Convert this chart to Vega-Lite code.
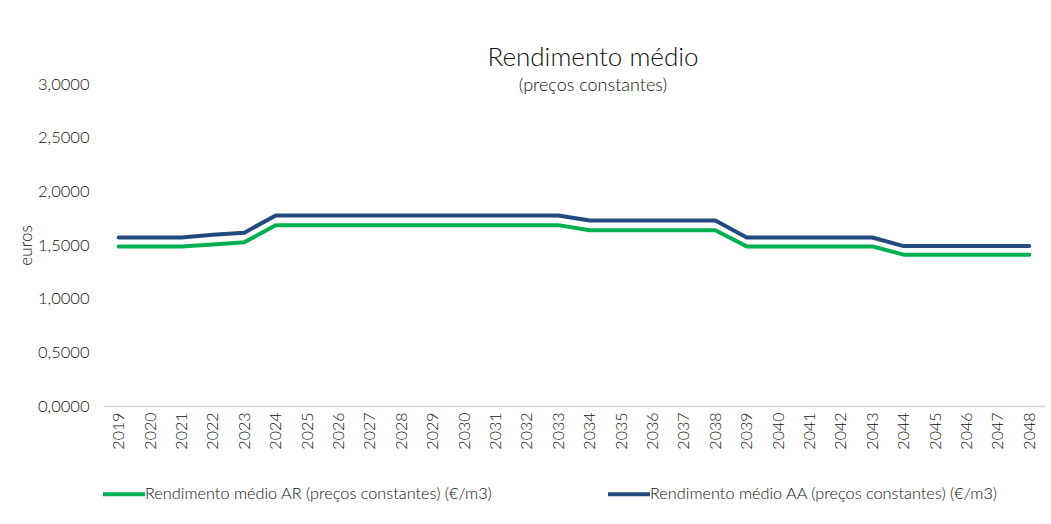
{
  "$schema": "https://vega.github.io/schema/vega-lite/v6.json",
  "width": 942,
  "height": 322,
  "autosize": {"type": "none"},
  "padding": {"left": 103, "top": 84, "right": 6, "bottom": 118},
  "background": "white",
  "config": {
    "font": "Lato",
    "view": {"stroke": null},
    "text": {"font": "Lato"}
  },
  "title": {
    "text": "Rendimento médio",
    "subtitle": "(preços constantes)",
    "fontSize": 26,
    "fontWeight": 300,
    "subtitleFontSize": 18,
    "subtitleFontWeight": 300,
    "color": "#111111",
    "subtitleColor": "#111111",
    "anchor": "middle",
    "dx": 19,
    "offset": -19,
    "subtitlePadding": 6,
    "font": "Lato",
    "subtitleFont": "Lato"
  },
  "data": {
    "values": [
      {"ano": "2019", "serie": "AR", "valor": 1.485},
      {"ano": "2020", "serie": "AR", "valor": 1.485},
      {"ano": "2021", "serie": "AR", "valor": 1.485},
      {"ano": "2022", "serie": "AR", "valor": 1.505},
      {"ano": "2023", "serie": "AR", "valor": 1.525},
      {"ano": "2024", "serie": "AR", "valor": 1.685},
      {"ano": "2025", "serie": "AR", "valor": 1.685},
      {"ano": "2026", "serie": "AR", "valor": 1.685},
      {"ano": "2027", "serie": "AR", "valor": 1.685},
      {"ano": "2028", "serie": "AR", "valor": 1.685},
      {"ano": "2029", "serie": "AR", "valor": 1.685},
      {"ano": "2030", "serie": "AR", "valor": 1.685},
      {"ano": "2031", "serie": "AR", "valor": 1.685},
      {"ano": "2032", "serie": "AR", "valor": 1.685},
      {"ano": "2033", "serie": "AR", "valor": 1.685},
      {"ano": "2034", "serie": "AR", "valor": 1.637},
      {"ano": "2035", "serie": "AR", "valor": 1.637},
      {"ano": "2036", "serie": "AR", "valor": 1.637},
      {"ano": "2037", "serie": "AR", "valor": 1.637},
      {"ano": "2038", "serie": "AR", "valor": 1.637},
      {"ano": "2039", "serie": "AR", "valor": 1.487},
      {"ano": "2040", "serie": "AR", "valor": 1.487},
      {"ano": "2041", "serie": "AR", "valor": 1.487},
      {"ano": "2042", "serie": "AR", "valor": 1.487},
      {"ano": "2043", "serie": "AR", "valor": 1.487},
      {"ano": "2044", "serie": "AR", "valor": 1.41},
      {"ano": "2045", "serie": "AR", "valor": 1.41},
      {"ano": "2046", "serie": "AR", "valor": 1.41},
      {"ano": "2047", "serie": "AR", "valor": 1.41},
      {"ano": "2048", "serie": "AR", "valor": 1.41},
      {"ano": "2019", "serie": "AA", "valor": 1.57},
      {"ano": "2020", "serie": "AA", "valor": 1.57},
      {"ano": "2021", "serie": "AA", "valor": 1.57},
      {"ano": "2022", "serie": "AA", "valor": 1.595},
      {"ano": "2023", "serie": "AA", "valor": 1.615},
      {"ano": "2024", "serie": "AA", "valor": 1.775},
      {"ano": "2025", "serie": "AA", "valor": 1.775},
      {"ano": "2026", "serie": "AA", "valor": 1.775},
      {"ano": "2027", "serie": "AA", "valor": 1.775},
      {"ano": "2028", "serie": "AA", "valor": 1.775},
      {"ano": "2029", "serie": "AA", "valor": 1.775},
      {"ano": "2030", "serie": "AA", "valor": 1.775},
      {"ano": "2031", "serie": "AA", "valor": 1.775},
      {"ano": "2032", "serie": "AA", "valor": 1.775},
      {"ano": "2033", "serie": "AA", "valor": 1.775},
      {"ano": "2034", "serie": "AA", "valor": 1.728},
      {"ano": "2035", "serie": "AA", "valor": 1.728},
      {"ano": "2036", "serie": "AA", "valor": 1.728},
      {"ano": "2037", "serie": "AA", "valor": 1.728},
      {"ano": "2038", "serie": "AA", "valor": 1.728},
      {"ano": "2039", "serie": "AA", "valor": 1.57},
      {"ano": "2040", "serie": "AA", "valor": 1.57},
      {"ano": "2041", "serie": "AA", "valor": 1.57},
      {"ano": "2042", "serie": "AA", "valor": 1.57},
      {"ano": "2043", "serie": "AA", "valor": 1.57},
      {"ano": "2044", "serie": "AA", "valor": 1.49},
      {"ano": "2045", "serie": "AA", "valor": 1.49},
      {"ano": "2046", "serie": "AA", "valor": 1.49},
      {"ano": "2047", "serie": "AA", "valor": 1.49},
      {"ano": "2048", "serie": "AA", "valor": 1.49}
    ]
  },
  "mark": {"type": "line", "strokeWidth": 4, "strokeJoin": "round", "strokeCap": "round"},
  "encoding": {
    "x": {
      "field": "ano",
      "type": "ordinal",
      "scale": {"type": "point", "padding": 0.5},
      "axis": {
        "title": null,
        "labelAngle": -90,
        "labelFontSize": 16,
        "labelFontWeight": 300,
        "labelColor": "#111111",
        "labelPadding": 6,
        "ticks": false,
        "domainColor": "#d9d9d9",
        "domainWidth": 1.5,
        "grid": false
      }
    },
    "y": {
      "field": "valor",
      "type": "quantitative",
      "scale": {"domain": [0, 3]},
      "axis": {
        "title": "euros",
        "titleFontSize": 17,
        "titleFontWeight": 300,
        "titleColor": "#111111",
        "titlePadding": 2,
        "values": [0, 0.5, 1, 1.5, 2, 2.5, 3],
        "labelExpr": "replace(format(datum.value, '.4f'), '.', ',')",
        "labelFontSize": 16.5,
        "labelFontWeight": 300,
        "labelColor": "#111111",
        "labelPadding": 14,
        "ticks": false,
        "domain": false,
        "grid": false
      }
    },
    "color": {
      "field": "serie",
      "type": "nominal",
      "scale": {"domain": ["AR", "AA"], "range": ["#00b050", "#234a80"]},
      "legend": {
        "title": null,
        "orient": "none",
        "legendX": -2,
        "legendY": 387,
        "direction": "horizontal",
        "columns": 2,
        "columnPadding": 107,
        "symbolType": "stroke",
        "symbolSize": 1764,
        "symbolStrokeWidth": 4,
        "labelFontSize": 16.3,
        "labelFontWeight": 300,
        "labelColor": "#111111",
        "labelOffset": -2,
        "labelLimit": 500,
        "labelExpr": "datum.value == 'AR' ? 'Rendimento médio AR (preços constantes) (€/m3)' : 'Rendimento médio AA (preços constantes) (€/m3)'"
      }
    }
  }
}
